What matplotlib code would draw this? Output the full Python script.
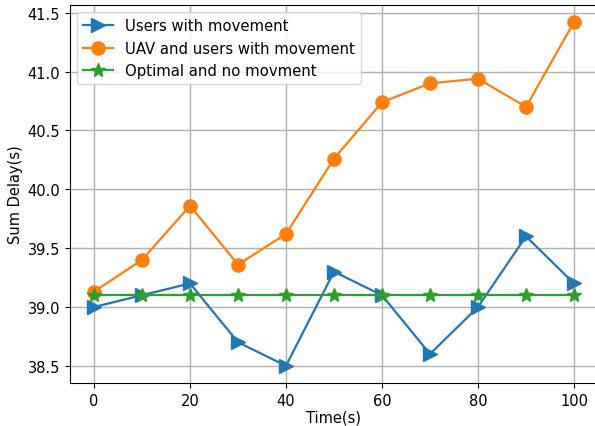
from matplotlib import pyplot as plt

time = [0, 10, 20, 30, 40, 50, 60, 70, 80, 90, 100]
users_move = [39.0, 39.1, 39.2, 38.7, 38.5, 39.3, 39.1, 38.6, 39.0, 39.6, 39.2]
uav_users_move = [39.13, 39.40, 39.86, 39.36, 39.62, 40.26, 40.74, 40.90, 40.94, 40.70, 41.42]
optimal = [39.1] * len(time)

fig = plt.figure(figsize=(5.95, 4.27), dpi=100)
ax = fig.add_axes([70 / 595, 43 / 427, 528 / 595, 378 / 427])

ax.plot(time, users_move, marker='>', markersize=10, linewidth=1.6, label='Users with movement')
ax.plot(time, uav_users_move, marker='o', markersize=9.5, linewidth=1.6, label='UAV and users with movement')
ax.plot(time, optimal, marker='*', markersize=10.5, linewidth=1.6, label='Optimal and no movment')

ax.grid(True, color='#b0b0b0', linewidth=1)
ax.set_xticks([0, 20, 40, 60, 80, 100])
ax.set_yticks([38.5, 39.0, 39.5, 40.0, 40.5, 41.0, 41.5])
ax.tick_params(labelsize=10.5)
ax.set_xlabel("Time(s)", fontsize=10.5, labelpad=1)
ax.set_ylabel("Sum Delay(s)", fontsize=10.5, labelpad=3)
ax.legend(loc='upper left', fontsize=10.7)

plt.savefig('out.png', dpi=100)
